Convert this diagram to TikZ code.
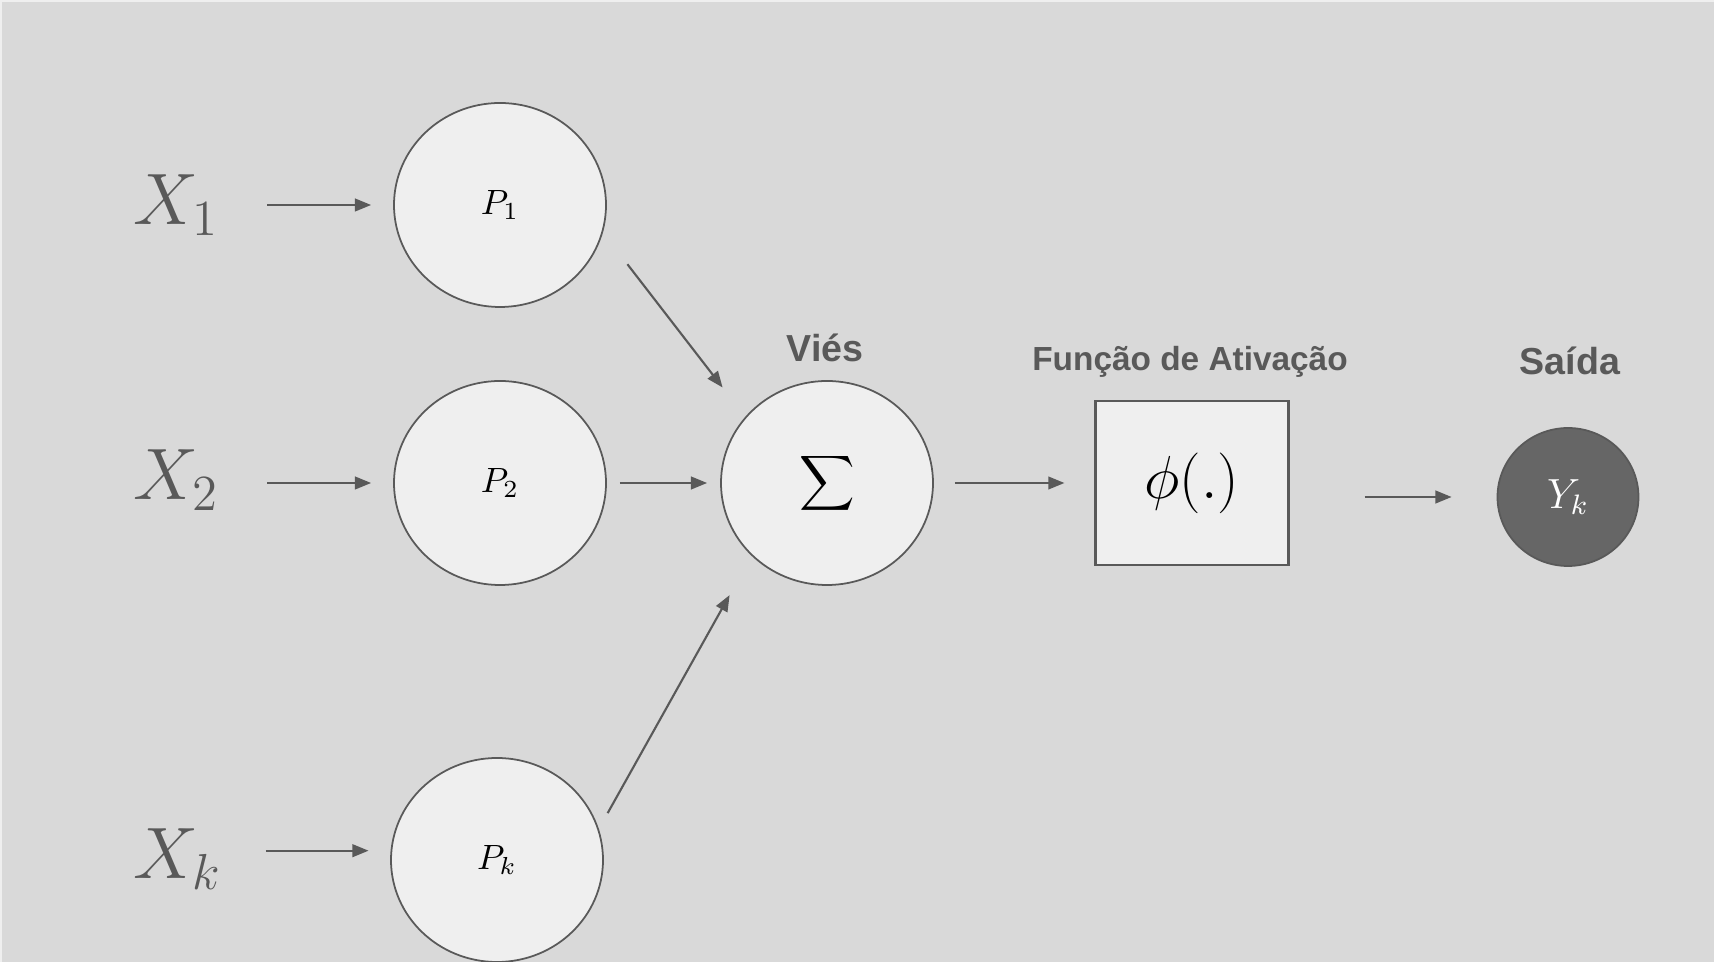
\documentclass[tikz,border=0pt]{standalone}
\usepackage{amsmath}
\usepackage{fontspec}
\usepackage{xcolor}
\usetikzlibrary{shapes,arrows,arrows.meta,positioning,shapes.geometric}
\newfontfamily\titlefont{Liberation Sans}
\definecolor{canvas}{RGB}{217,217,217}
\definecolor{neutral}{RGB}{89,89,89}
\definecolor{light}{RGB}{239,239,239}
\definecolor{outgray}{RGB}{102,102,102}
\tikzstyle{arrow} = [
    line width=0.6pt,
    -{Triangle[length=4.6pt,width=3.6pt]},
    draw=neutral
]
\tikzstyle{unit} = [
    ellipse,
    draw=neutral,
    fill=light,
    line width=0.5pt,
    minimum width=2.12cm,
    minimum height=2.04cm,
    inner sep=0pt
]
\begin{document}
\begin{tikzpicture}[
                every node/.style={
                    inner sep=0pt
                },
                input/.style={
                    text=neutral,
                    anchor=base west,
                    font=\fontsize{22}{26}\selectfont
                },
                caption/.style={
                    text=neutral,
                    font=\titlefont\bfseries\fontsize{10.7}{12}\selectfont
                },
                actbox/.style={
                    rectangle,
                    draw=neutral,
                    fill=light,
                    line width=0.6pt,
                    minimum width=1.93cm,
                    minimum height=1.64cm
                },
                outnode/.style={
                    ellipse,
                    draw=neutral,
                    fill=outgray,
                    line width=0.5pt,
                    minimum width=1.41cm,
                    minimum height=1.38cm,
                    text=white
                }
            ]
                \useasboundingbox (0,0) rectangle (17.14,-9.62);
                \fill[canvas] (0,0) rectangle (17.14,-9.62);
                \draw[light, line width=0.4pt] (0.01,-9.62) -- (0.01,-0.01) -- (17.14,-0.01);
                \node[input] (X1) at (1.33,-2.25) {$X_1$};
                \node[input] (X2) at (1.33,-5.00) {$X_2$};
                \node[input] (Xk) at (1.33,-8.79) {$X_k$};
                \node[unit] (P1) at (5.00,-2.05) {\fontsize{10}{12}\selectfont$P_1$};
                \node[unit] (P2) at (5.00,-4.83) {\fontsize{10}{12}\selectfont$P_2$};
                \node[unit] (Pk) at (4.97,-8.60) {\fontsize{10}{12}\selectfont$P_k$};
                \node[unit] (S) at (8.27,-4.83) {\fontsize{11}{13}\selectfont$\displaystyle\sum$};
                \node[actbox] (F) at (11.92,-4.83) {\fontsize{16.5}{20}\selectfont$\phi(.)$};
                \node[outnode] (Y) at (15.68,-4.97) {\fontsize{12}{14}\selectfont$Y_k$};
                \node[caption] (bias) at (8.25,-3.48) {Viés};
                \node[caption, font=\titlefont\bfseries\fontsize{9.5}{11}\selectfont] (act) at (11.90,-3.62) {Função de Ativação};
                \node[caption] (out) at (15.70,-3.61) {Saída};
                \draw[arrow, shorten <=0.47cm, shorten >=0.22cm] (X1.east |- P1) -- (P1);
                \draw[arrow, shorten <=0.47cm, shorten >=0.22cm] (X2.east |- P2) -- (P2);
                \draw[arrow, shorten <=0.43cm, shorten >=0.22cm] (Xk.east |- Pk.175.4) -- (Pk.175.4);
                \draw[arrow, shorten <=0.40cm, shorten >=0.37cm] (P1.-15.5) -- (S.141.6);
                \draw[arrow, shorten <=0.13cm, shorten >=0.13cm] (P2) -- (S);
                \draw[arrow, shorten <=0.18cm, shorten >=0.45cm] (Pk.17.6) -- (S.-136);
                \draw[arrow, shorten <=0.21cm, shorten >=0.30cm] (S) -- (F);
                \draw[arrow, shorten <=0.75cm, shorten >=0.45cm] (F.east |- Y) -- (Y);
            \end{tikzpicture}
\end{document}
